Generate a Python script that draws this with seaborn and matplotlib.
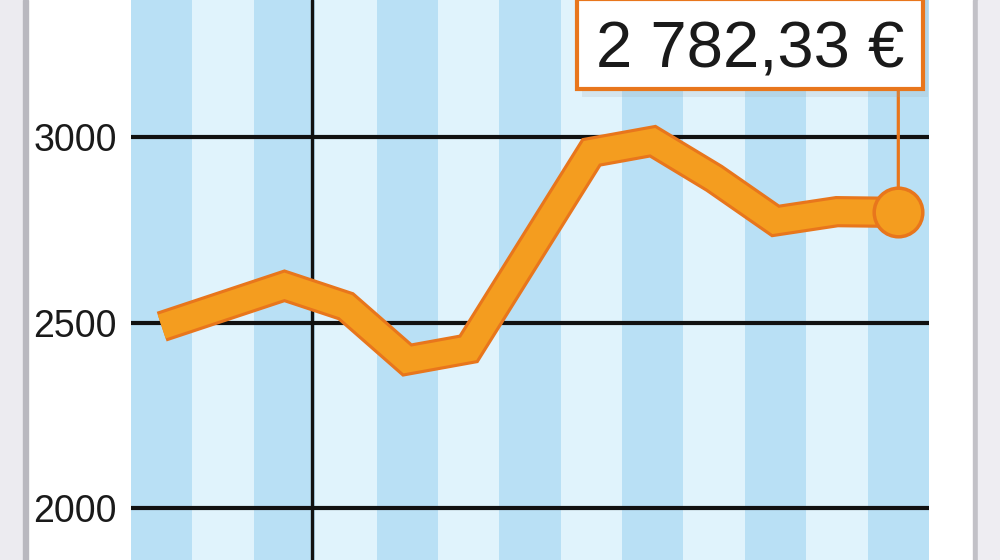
import matplotlib
matplotlib.use("Agg")
import matplotlib.pyplot as plt
import matplotlib.patheffects as pe
from matplotlib import font_manager
from matplotlib.patches import Rectangle
import seaborn as sns
import pandas as pd

# values, one per month column
months = list(range(13))
price = [2490, 2545, 2600, 2545, 2400, 2430, 2695, 2960, 2990, 2890, 2775, 2800, 2798]
y_ticks = [2000, 2500, 3000]
y_tick_labels = ["2000", "2500", "3000"]
last_label = "2 782,33 €"

STRIPE_DARK = "#b9e0f5"
STRIPE_LIGHT = "#e0f3fc"
ORANGE = "#f49d1f"
ORANGE_EDGE = "#e8761c"


def pick_font(families):
    for fam in families:
        try:
            font_manager.findfont(fam, fallback_to_default=False)
            return fam
        except ValueError:
            pass
    return "DejaVu Sans"


sns.set_theme(style="white")
narrow = pick_font(["Liberation Sans Narrow", "Liberation Sans"])
plain = pick_font(["Liberation Sans", "DejaVu Sans"])
plt.rcParams["font.family"] = [plain, "DejaVu Sans"]

df = pd.DataFrame({"month": months, "price": price})

fig = plt.figure(figsize=(10, 5.6), dpi=100)
fig.patch.set_facecolor("white")

# page edges of the scanned sheet
fig.patches.append(Rectangle((0, 0), 0.023, 1, transform=fig.transFigure, color="#ecebf0", zorder=0))
fig.patches.append(Rectangle((0.023, 0), 0.005, 1, transform=fig.transFigure, color="#b9b8bf", zorder=0))
fig.patches.append(Rectangle((0.973, 0), 0.005, 1, transform=fig.transFigure, color="#c2c1c7", zorder=0))
fig.patches.append(Rectangle((0.978, 0), 0.022, 1, transform=fig.transFigure, color="#eeedf2", zorder=0))

ax = fig.add_axes([0.131, 0.0, 0.798, 1.0])
ax.set_xlim(-0.5, len(months) - 0.5)
ax.set_ylim(1860.6, 3370.8)

# alternating column stripes
for i in months:
    ax.axvspan(i - 0.5, i + 0.5, color=STRIPE_DARK if i % 2 == 0 else STRIPE_LIGHT,
               lw=0, zorder=0)

for t in y_ticks:
    ax.axhline(t, color="#111111", lw=3, zorder=1.5)
ax.axvline(2.45, color="#111111", lw=2.4, zorder=1.5)

sns.lineplot(data=df, x="month", y="price", ax=ax, color=ORANGE, lw=18,
             solid_joinstyle="miter", solid_capstyle="butt", zorder=3,
             path_effects=[pe.Stroke(linewidth=22.5, foreground=ORANGE_EDGE,
                                     joinstyle="miter", capstyle="butt"),
                           pe.Normal()])

# connector from the last point up to the label box
box_bottom = 1 - 89 / 560
ax.annotate("", xy=(months[-1], price[-1]), xycoords="data",
            xytext=(months[-1], box_bottom), textcoords=("data", "axes fraction"),
            arrowprops=dict(arrowstyle="-", color=ORANGE_EDGE, lw=2.3,
                            shrinkA=0, shrinkB=0), zorder=3.5)
ax.plot(months[-1], price[-1], marker="o", ms=35, mfc=ORANGE, mec=ORANGE_EDGE,
        mew=2.5, zorder=4)

# label box
x0 = (577 - 131) / 798
x1 = (923 - 131) / 798
ax.add_patch(Rectangle((x0 + 0.006, box_bottom - 0.014), x1 - x0, 0.2,
                       transform=ax.transAxes, color="#9aa3aa", alpha=0.18,
                       lw=0, clip_on=False, zorder=4.5))
ax.add_patch(Rectangle((x0, box_bottom), x1 - x0, 1.002 - box_bottom,
                       transform=ax.transAxes, facecolor="white",
                       edgecolor=ORANGE_EDGE, lw=3, clip_on=False, zorder=5))
fig.text(0.750, 1 - 67 / 560, last_label, ha="center", va="baseline",
         fontsize=47, color="#1a1a1a", zorder=6)

ax.set_yticks(y_ticks)
ax.set_yticklabels(y_tick_labels, fontsize=30 if narrow != plain else 27,
                   family=[narrow, "DejaVu Sans"], color="#1a1a1a")
ax.set_xticks([])
ax.tick_params(axis="y", length=0, pad=10)
ax.set_xlabel("")
ax.set_ylabel("")
for s in ax.spines.values():
    s.set_visible(False)

fig.savefig("out.png", dpi=100)
